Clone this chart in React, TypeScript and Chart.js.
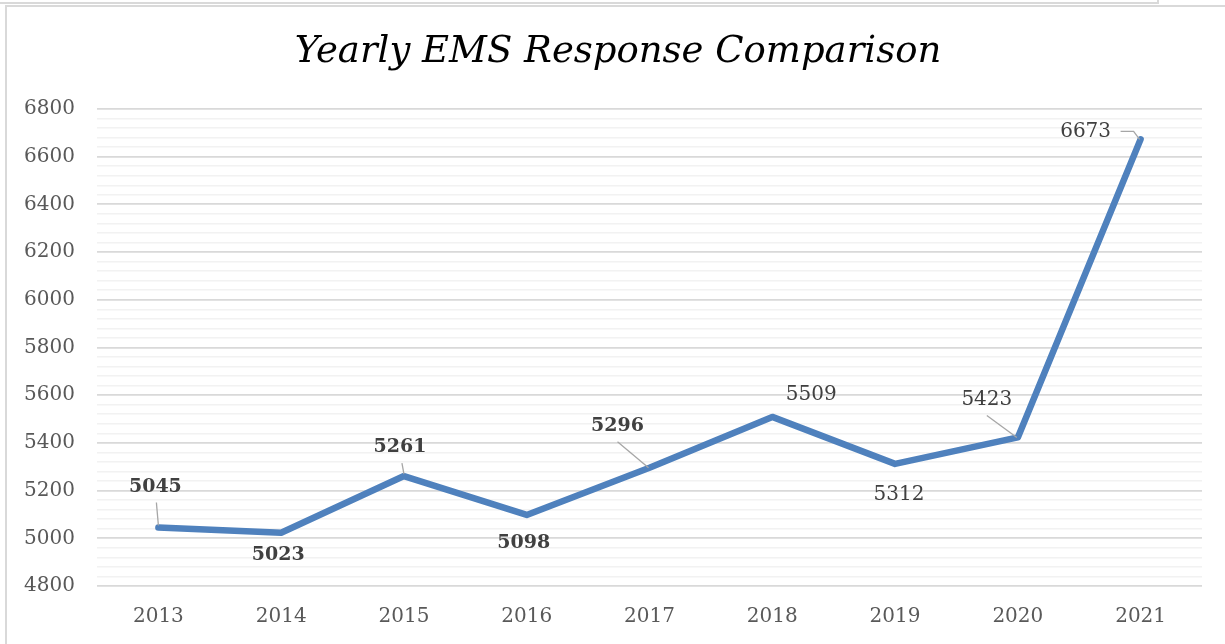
import React, { useEffect, useRef } from "react";
import { Chart, registerables } from "chart.js";

Chart.register(...registerables);

const years = ["2013", "2014", "2015", "2016", "2017", "2018", "2019", "2020", "2021"];
const responses = [5045, 5023, 5261, 5098, 5296, 5509, 5312, 5423, 6673];
const boldLabel = [true, true, true, true, true, false, false, false, false];
const yMin = 4800;
const yMax = 6800;
const majorStep = 200;
const minorStep = 40;
const titleText = "Yearly EMS Response Comparison";

const FONT = "'DejaVu Serif', serif";

// label placement relative to each point: [dx, dy], plus optional leader polyline
const labelLayout: { dx: number; dy: number; leader?: number[][] }[] = [
  { dx: -3, dy: -41, leader: [[-2, -25], [0, -2]] },
  { dx: -3, dy: 22 },
  { dx: -4, dy: -29, leader: [[-2, -13], [0, -2]] },
  { dx: -3, dy: 28 },
  { dx: -32, dy: -42, leader: [[-32, -26], [-1, 0]] },
  { dx: 39, dy: -22 },
  { dx: 4, dy: 31 },
  { dx: -31, dy: -38, leader: [[-31, -22], [-1, 0]] },
  { dx: -55, dy: -7, leader: [[-20, -8], [-7, -8], [-1, 0]] },
];

const labelPlugin = {
  id: "emsLabels",
  afterDatasetsDraw(chart: any) {
    const ctx = chart.ctx;
    const meta = chart.getDatasetMeta(0);
    ctx.save();
    meta.data.forEach((pt: any, i: number) => {
      const lay = labelLayout[i];
      if (lay.leader) {
        ctx.beginPath();
        ctx.strokeStyle = "#a6a6a6";
        ctx.lineWidth = 1.3;
        lay.leader.forEach((p, k) => {
          const x = pt.x + p[0];
          const y = pt.y + p[1];
          if (k === 0) ctx.moveTo(x, y);
          else ctx.lineTo(x, y);
        });
        ctx.stroke();
      }
      ctx.fillStyle = "#404040";
      ctx.font = boldLabel[i] ? `bold 19px ${FONT}` : `20px ${FONT}`;
      ctx.textAlign = "center";
      ctx.textBaseline = "middle";
      ctx.fillText(String(responses[i]), pt.x + lay.dx, pt.y + lay.dy);
    });
    ctx.restore();
  },
  afterDraw(chart: any) {
    const ctx = chart.ctx;
    ctx.save();
    ctx.fillStyle = "#000000";
    ctx.font = `italic 37px ${FONT}`;
    ctx.textAlign = "center";
    ctx.textBaseline = "middle";
    ctx.fillText(titleText, 618, 52);
    ctx.restore();
  },
};

export default function App() {
  const ref = useRef<HTMLCanvasElement | null>(null);

  useEffect(() => {
    if (!ref.current) return;
    const chart = new Chart(ref.current, {
      type: "line",
      data: {
        labels: years,
        datasets: [
          {
            data: responses,
            borderColor: "#4f81bd",
            backgroundColor: "#4f81bd",
            borderWidth: 6.5,
            pointRadius: 0,
            pointHoverRadius: 0,
            tension: 0,
            borderJoinStyle: "round",
            borderCapStyle: "round",
            fill: false,
          },
        ],
      },
      options: {
        responsive: false,
        animation: false,
        events: [],
        layout: { padding: { top: 109, right: 23, bottom: 0, left: 0 } },
        plugins: {
          legend: { display: false },
          title: { display: false },
          tooltip: { enabled: false },
        },
        scales: {
          x: {
            offset: true,
            grid: { display: false, drawTicks: false },
            border: { display: false },
            ticks: {
              color: "#595959",
              font: { family: FONT, size: 20 },
              padding: 19,
            },
            afterFit(scale: any) {
              scale.height = 58;
            },
          },
          y: {
            min: yMin,
            max: yMax,
            border: { display: false },
            grid: {
              drawTicks: false,
              color: (c: any) => (c.tick && c.tick.value % majorStep === 0 ? "#d9d9d9" : "#f2f2f2"),
              lineWidth: (c: any) => (c.tick && c.tick.value % majorStep === 0 ? 1.8 : 1.6),
            },
            ticks: {
              stepSize: minorStep,
              autoSkip: false,
              color: "#595959",
              font: { family: FONT, size: 20 },
              padding: 22,
              callback: (v: any) => (Number(v) % majorStep === 0 ? String(v) : ""),
            },
            afterFit(scale: any) {
              scale.width = 97;
            },
          },
        },
      },
      plugins: [labelPlugin],
    });
    return () => chart.destroy();
  }, []);

  return (
    <div style={{ position: "absolute", left: 0, top: 0, width: 1225, height: 644, background: "#ffffff", overflow: "hidden" }}>
      <div style={{ position: "absolute", left: 0, top: 2, width: 1158, height: 2, background: "#d9d9d9" }} />
      <div style={{ position: "absolute", left: 1157, top: 0, width: 2, height: 4, background: "#d9d9d9" }} />
      <div style={{ position: "absolute", left: 5, top: 5, width: 1220, height: 2, background: "#d9d9d9" }} />
      <div style={{ position: "absolute", left: 5, top: 5, width: 2, height: 639, background: "#d9d9d9" }} />
      <canvas ref={ref} width={1225} height={644} style={{ position: "absolute", left: 0, top: 0, width: 1225, height: 644 }} />
    </div>
  );
}
